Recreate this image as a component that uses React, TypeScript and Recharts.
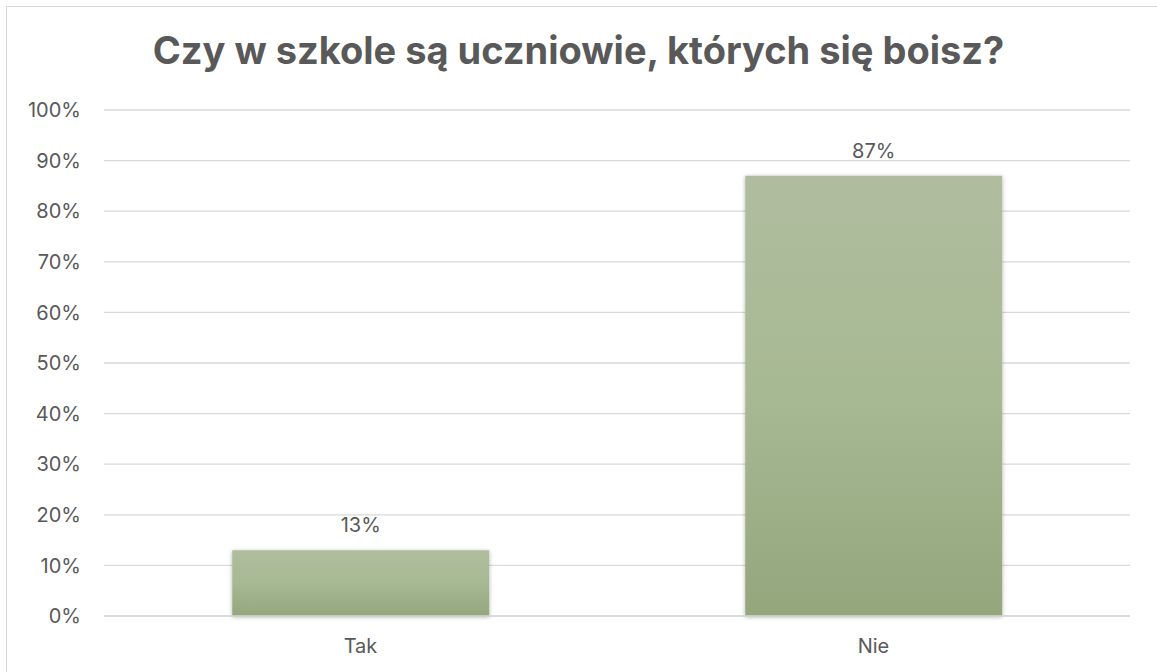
import React from "react";
import { BarChart, Bar, XAxis, YAxis, CartesianGrid, LabelList } from "recharts";

const categories = ["Tak", "Nie"];
const shares = [13, 87];
const yTicks = [0, 10, 20, 30, 40, 50, 60, 70, 80, 90, 100];

const data = categories.map((name, i) => ({ name, value: shares[i] }));

const FONT = "Inter, 'Open Sans', 'Noto Sans', sans-serif";
const TEXT = "#595959";

export default function App() {
  return (
    <div style={{ position: "absolute", left: 0, top: 0, width: 1157, height: 672, background: "#fff", overflow: "hidden", fontFamily: FONT }}>
      <div style={{ position: "absolute", left: 6, top: 6, width: 1160, height: 680, border: "1px solid #d9d9d9", boxSizing: "border-box" }} />
      <div style={{ position: "absolute", left: 0, top: 27, width: 1157, textAlign: "center", fontSize: 38, lineHeight: "46px", fontWeight: 700, color: TEXT }}>
        Czy w szkole są uczniowie, których się boisz?
      </div>
      <div style={{ position: "absolute", left: 0, top: 0 }}>
        <BarChart width={1157} height={672} data={data} margin={{ top: 110, right: 27, bottom: 26, left: 0 }} barCategoryGap="25%">
          <defs>
            <linearGradient id="barFill" x1="0" y1="0" x2="0" y2="1">
              <stop offset="0%" stopColor="#afbd9e" />
              <stop offset="50%" stopColor="#a7b993" />
              <stop offset="100%" stopColor="#93a67c" />
            </linearGradient>
            <filter id="barShadow" x="-10%" y="-10%" width="120%" height="120%">
              <feDropShadow dx="0" dy="1" stdDeviation="2" floodColor="#000" floodOpacity="0.3" />
            </filter>
          </defs>
          <CartesianGrid vertical={false} stroke="#d9d9d9" strokeWidth={1.3} />
          <XAxis
            dataKey="name"
            axisLine={{ stroke: "#d9d9d9", strokeWidth: 1.3 }}
            tickLine={false}
            tickSize={0}
            tickMargin={23}
            tick={{ fill: TEXT, fontSize: 20, fontFamily: FONT }}
          />
          <YAxis
            width={104}
            domain={[0, 100]}
            ticks={yTicks}
            interval={0}
            axisLine={false}
            tickLine={false}
            tickSize={0}
            tickMargin={23}
            tickFormatter={(v) => `${v}%`}
            tick={{ fill: TEXT, fontSize: 20, fontFamily: FONT }}
          />
          <Bar dataKey="value" fill="url(#barFill)" filter="url(#barShadow)" isAnimationActive={false}>
            <LabelList dataKey="value" position="top" offset={18} formatter={(v: number) => `${v}%`} fill={TEXT} fontSize={20} fontFamily={FONT} />
          </Bar>
        </BarChart>
      </div>
    </div>
  );
}
